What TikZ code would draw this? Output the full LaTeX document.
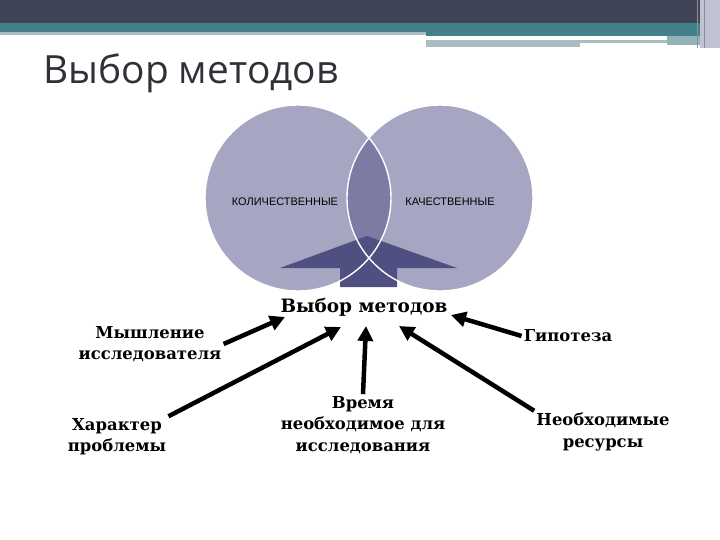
\documentclass[tikz,border=0pt]{standalone}
\usepackage{fontspec}
\setmainfont{DejaVu Serif}
\setsansfont{Liberation Sans}
\newfontfamily\titlefont{Open Sans}
\usetikzlibrary{arrows.meta, positioning}

\definecolor{bandDark}{HTML}{3F4456}
\definecolor{bandTeal}{HTML}{43818A}
\definecolor{bandLight}{HTML}{A9BEC2}
\definecolor{bandSide}{HTML}{C2C1D2}
\definecolor{titleGray}{HTML}{303039}
\definecolor{circleFill}{HTML}{A6A6C2}
\definecolor{lensFill}{HTML}{7B7BA4}
\definecolor{arrowFill}{HTML}{4F4F82}

\begin{document}
\begin{tikzpicture}[
        x = 1bp, y = -1bp, % pixel grid, y going down
        > = {Triangle[length=15bp, width=15bp]}, % arrow head style
        semithick
    ]

    \tikzstyle{factor}=[font=\bfseries\fontsize{16.5}{21.5}\selectfont,
    align=center, inner sep=2bp]
    \tikzstyle{push}=[->, line width=4.5bp, black]
    \tikzstyle{set}=[circle, minimum size=186bp, inner sep=0pt]
    \tikzstyle{setlabel}=[font=\sffamily\fontsize{11}{12}\selectfont]

    \useasboundingbox (0,0) rectangle (720,540);

    % header bands
    \fill[bandDark] (0,0) rectangle (700,23);
    \fill[bandTeal] (0,23) rectangle (700,32);
    \fill[bandLight] (0,32) rectangle (426,35);
    \fill[bandTeal] (426,32) rectangle (700,36);
    \fill[bandLight] (426,40) rectangle (580,47);
    \fill[bandLight] (580,40) rectangle (667,43);
    \fill[bandLight!80!bandTeal] (667,36) rectangle (700,45);
    \fill[bandSide] (700,0) rectangle (720,48);
    \draw[bandDark!60, thick] (697,0) -- (697,48) (704,0) -- (704,48);

    \node[anchor=base west, inner sep=0pt, text=titleGray,
    font=\titlefont\fontsize{39}{39}\selectfont] (title) at (43,84) {Выбор методов};

    % the two sets
    \node[set, fill=circleFill] (quant) at (298,198) {};
    \node[set, fill=circleFill] (qual) at (440,198) {};
    \begin{scope}
        \clip (quant.center) circle (93bp);
        \fill[lensFill] (qual.center) circle (93bp);
    \end{scope}

    % block arrow up into the overlap
    \fill[arrowFill] (367,236) -- (457,268) -- (397,268) -- (397,287)
    -- (340,287) -- (340,268) -- (280,268) -- cycle;

    \draw[white, line width=1.4bp] (quant.center) circle (93bp);
    \draw[white, line width=1.4bp] (qual.center) circle (93bp);

    \node[setlabel] (quantlbl) at (285,202) {КОЛИЧЕСТВЕННЫЕ};
    \node[setlabel] (quallbl) at (450,202) {КАЧЕСТВЕННЫЕ};

    % factors
    \node[factor, font=\bfseries\fontsize{18.5}{22}\selectfont] (method) at (364,307) {Выбор методов};
    \node[factor] (think) at (150,344) {Мышление\\исследователя};
    \node[factor] (problem) at (117,437) {Характер\\проблемы};
    \node[factor] (time) at (363,425) {Время\\необходимое для\\исследования};
    \node[factor] (hyp) at (568,336) {Гипотеза};
    \node[factor] (res) at (603,432) {Необходимые\\ресурсы};

    \coordinate (m1) at (285,317);
    \coordinate (m2) at (341,327);
    \coordinate (m3) at (366,326);
    \coordinate (m4) at (399,326);
    \coordinate (m5) at (451,315);

    \path[push] (think.east) edge (m1);
    \path[push] (problem.north east) edge (m2);
    \path[push] (time.north) edge (m3);
    \path[push] (res.north west) edge (m4);
    \path[push] (hyp.west) edge (m5);

\end{tikzpicture}
\end{document}
